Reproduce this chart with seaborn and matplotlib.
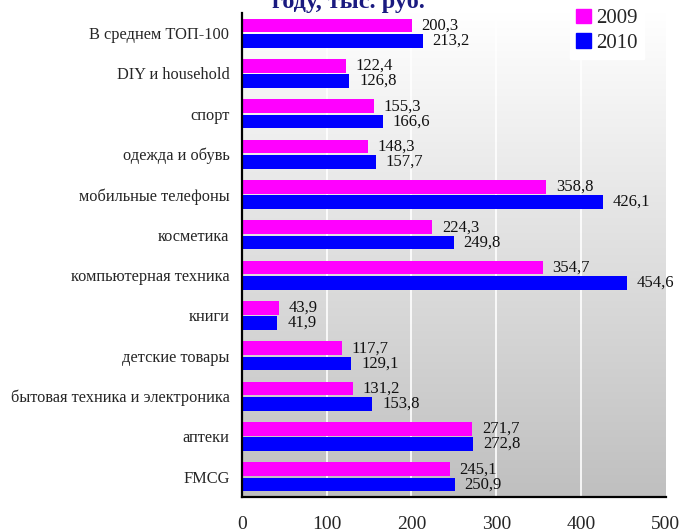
import numpy as np
import pandas as pd
import matplotlib
matplotlib.use("Agg")
import matplotlib.pyplot as plt
import seaborn as sns

categories = [
    "В среднем ТОП-100",
    "DIY и household",
    "спорт",
    "одежда и обувь",
    "мобильные телефоны",
    "косметика",
    "компьютерная техника",
    "книги",
    "детские товары",
    "бытовая техника и электроника",
    "аптеки",
    "FMCG",
]
values_2009 = [200.3, 122.4, 155.3, 148.3, 358.8, 224.3, 354.7, 43.9, 117.7, 131.2, 271.7, 245.1]
values_2010 = [213.2, 126.8, 166.6, 157.7, 426.1, 249.8, 454.6, 41.9, 129.1, 153.8, 272.8, 250.9]
years = ["2009", "2010"]
x_ticks = [0, 100, 200, 300, 400, 500]
title_tail = "году, тыс. руб."

df = pd.DataFrame({
    "category": categories * 2,
    "value": values_2009 + values_2010,
    "year": [years[0]] * len(categories) + [years[1]] * len(categories),
})

sns.set_theme(style="white")
plt.rcParams["font.family"] = ["Liberation Serif", "DejaVu Serif"]

fig = plt.figure(figsize=(6.89, 5.32), dpi=100)
ax = fig.add_axes([0.3512, 0.0658, 0.6150, 0.9098])

# vertical white-to-grey gradient behind the bars
grad = np.linspace(1.0, 0.0, 256).reshape(-1, 1)
top_c = np.array([1.0, 1.0, 1.0])
bot_c = np.array([0.75, 0.75, 0.75])
img = top_c * grad[..., None] + bot_c * (1 - grad[..., None])
ax.imshow(img, extent=[0, 1, 0, 1], transform=ax.transAxes, aspect="auto", zorder=0)

sns.barplot(data=df, y="category", x="value", hue="year", orient="h",
            palette=["#FF00FF", "#0000FF"], width=0.75, gap=0.1,
            saturation=1, linewidth=0, edgecolor="none", ax=ax, zorder=3)

for cont in ax.containers:
    labels = [f"{b.get_width():.1f}".replace(".", ",") for b in cont]
    ax.bar_label(cont, labels=labels, padding=7, fontsize=12, color="#111111")

ax.set_xlim(0, 500)
ax.set_ylim(len(categories) - 0.5, -0.5)
ax.set_xticks(x_ticks)
ax.set_xticklabels([str(t) for t in x_ticks], fontsize=14)
ax.tick_params(axis="x", direction="out", length=4, width=1.5, color="black", pad=9.5)
ax.tick_params(axis="y", which="major", length=0, labelsize=11.8, pad=9)
ax.set_yticks(np.arange(-0.5, len(categories), 1.0), minor=True)
ax.tick_params(axis="y", which="minor", direction="out", length=4, width=1.5, color="black")
for v in x_ticks[1:-1]:
    ax.axvline(v, color="white", lw=1.2, zorder=1)

for side in ["top", "right"]:
    ax.spines[side].set_visible(False)
for side in ["left", "bottom"]:
    ax.spines[side].set_color("black")
    ax.spines[side].set_linewidth(1.6)
    ax.spines[side].set_zorder(5)
ax.set_xlabel("")
ax.set_ylabel("")

ax.legend_.remove()
handles = [plt.Rectangle((0, 0), 1, 1, color=c) for c in ["#FF00FF", "#0000FF"]]
leg = fig.legend(handles, years, loc="upper left", bbox_to_anchor=(0.812, 1.015),
                 fontsize=15, frameon=True, framealpha=1, facecolor="white",
                 edgecolor="white", handlelength=0.7, handleheight=0.7,
                 handletextpad=0.25, labelspacing=0.25, borderpad=0.3,
                 fancybox=False)

fig.text(0.505, 0.985, title_tail, ha="center", va="baseline", fontsize=17.5,
         fontweight="bold", color="#1a1a80")

fig.savefig("out.png", dpi=100)
